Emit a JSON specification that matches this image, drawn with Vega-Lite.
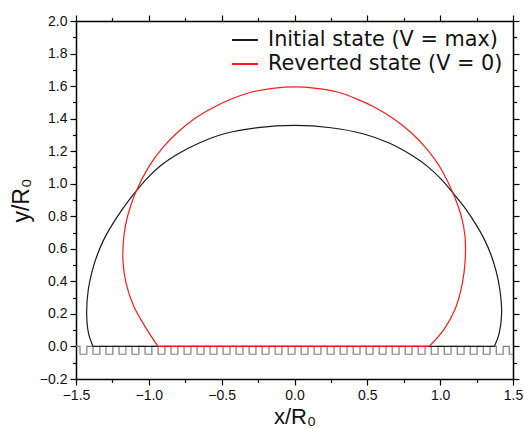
{
  "$schema": "https://vega.github.io/schema/vega-lite/v6.json",
  "width": 437,
  "height": 358,
  "autosize": {"type": "none"},
  "padding": {"left": 76, "top": 21, "right": 11, "bottom": 49},
  "background": "white",
  "config": {
    "view": {"stroke": null},
    "axis": {"grid": false, "labelFlush": false, "domainColor": "black", "domainWidth": 1.5, "tickColor": "black", "tickWidth": 1.2, "labelFont": "Liberation Sans", "labelFontSize": 14, "labelColor": "#111", "titleFont": "Liberation Sans", "titleFontWeight": "normal", "titleColor": "#111"},
    "legend": {"labelFont": "DejaVu Sans", "labelFontSize": 20.8, "labelColor": "#111"}
  },
  "resolve": {"axis": {"x": "independent", "y": "independent"}},
  "datasets": {
    "wave": [
      {"x": -1.5, "y": 0},
      {"x": -1.4725, "y": -0.048}, {"x": -1.4255, "y": 0},
      {"x": -1.3832, "y": -0.048}, {"x": -1.3362, "y": 0},
      {"x": -1.2939, "y": -0.048}, {"x": -1.2469, "y": 0},
      {"x": -1.2046, "y": -0.048}, {"x": -1.1576, "y": 0},
      {"x": -1.1153, "y": -0.048}, {"x": -1.0683, "y": 0},
      {"x": -1.026, "y": -0.048}, {"x": -0.979, "y": 0},
      {"x": -0.9367, "y": -0.048}, {"x": -0.8897, "y": 0},
      {"x": -0.8474, "y": -0.048}, {"x": -0.8004, "y": 0},
      {"x": -0.7581, "y": -0.048}, {"x": -0.7111, "y": 0},
      {"x": -0.6688, "y": -0.048}, {"x": -0.6218, "y": 0},
      {"x": -0.5795, "y": -0.048}, {"x": -0.5325, "y": 0},
      {"x": -0.4902, "y": -0.048}, {"x": -0.4432, "y": 0},
      {"x": -0.4009, "y": -0.048}, {"x": -0.3539, "y": 0},
      {"x": -0.3116, "y": -0.048}, {"x": -0.2646, "y": 0},
      {"x": -0.2223, "y": -0.048}, {"x": -0.1753, "y": 0},
      {"x": -0.133, "y": -0.048}, {"x": -0.086, "y": 0},
      {"x": -0.0437, "y": -0.048}, {"x": 0.0033, "y": 0},
      {"x": 0.0456, "y": -0.048}, {"x": 0.0926, "y": 0},
      {"x": 0.1349, "y": -0.048}, {"x": 0.1819, "y": 0},
      {"x": 0.2242, "y": -0.048}, {"x": 0.2712, "y": 0},
      {"x": 0.3135, "y": -0.048}, {"x": 0.3605, "y": 0},
      {"x": 0.4028, "y": -0.048}, {"x": 0.4498, "y": 0},
      {"x": 0.4921, "y": -0.048}, {"x": 0.5391, "y": 0},
      {"x": 0.5814, "y": -0.048}, {"x": 0.6284, "y": 0},
      {"x": 0.6707, "y": -0.048}, {"x": 0.7177, "y": 0},
      {"x": 0.76, "y": -0.048}, {"x": 0.807, "y": 0},
      {"x": 0.8493, "y": -0.048}, {"x": 0.8963, "y": 0},
      {"x": 0.9386, "y": -0.048}, {"x": 0.9856, "y": 0},
      {"x": 1.0279, "y": -0.048}, {"x": 1.0749, "y": 0},
      {"x": 1.1172, "y": -0.048}, {"x": 1.1642, "y": 0},
      {"x": 1.2065, "y": -0.048}, {"x": 1.2535, "y": 0},
      {"x": 1.2958, "y": -0.048}, {"x": 1.3428, "y": 0},
      {"x": 1.3851, "y": -0.048}, {"x": 1.4321, "y": 0},
      {"x": 1.4744, "y": -0.048}, {"x": 1.5214, "y": 0}
    ],
    "curves": [
      {"s": "Initial state (V = max)", "p": "dome", "i": 1, "x": -1.383, "y": 0},
      {"s": "Initial state (V = max)", "p": "dome", "i": 2, "x": -1.414, "y": 0.08},
      {"s": "Initial state (V = max)", "p": "dome", "i": 3, "x": -1.427, "y": 0.204},
      {"s": "Initial state (V = max)", "p": "dome", "i": 4, "x": -1.416, "y": 0.347},
      {"s": "Initial state (V = max)", "p": "dome", "i": 5, "x": -1.39, "y": 0.46},
      {"s": "Initial state (V = max)", "p": "dome", "i": 6, "x": -1.355, "y": 0.56},
      {"s": "Initial state (V = max)", "p": "dome", "i": 7, "x": -1.31, "y": 0.655},
      {"s": "Initial state (V = max)", "p": "dome", "i": 8, "x": -1.25, "y": 0.75},
      {"s": "Initial state (V = max)", "p": "dome", "i": 9, "x": -1.18, "y": 0.845},
      {"s": "Initial state (V = max)", "p": "dome", "i": 10, "x": -1.1, "y": 0.94},
      {"s": "Initial state (V = max)", "p": "dome", "i": 11, "x": -1.015, "y": 1.03},
      {"s": "Initial state (V = max)", "p": "dome", "i": 12, "x": -0.92, "y": 1.11},
      {"s": "Initial state (V = max)", "p": "dome", "i": 13, "x": -0.813, "y": 1.177},
      {"s": "Initial state (V = max)", "p": "dome", "i": 14, "x": -0.65, "y": 1.252},
      {"s": "Initial state (V = max)", "p": "dome", "i": 15, "x": -0.47, "y": 1.31},
      {"s": "Initial state (V = max)", "p": "dome", "i": 16, "x": -0.25, "y": 1.345},
      {"s": "Initial state (V = max)", "p": "dome", "i": 17, "x": 0, "y": 1.358},
      {"s": "Initial state (V = max)", "p": "dome", "i": 18, "x": 0.25, "y": 1.344},
      {"s": "Initial state (V = max)", "p": "dome", "i": 19, "x": 0.47, "y": 1.307},
      {"s": "Initial state (V = max)", "p": "dome", "i": 20, "x": 0.65, "y": 1.25},
      {"s": "Initial state (V = max)", "p": "dome", "i": 21, "x": 0.813, "y": 1.17},
      {"s": "Initial state (V = max)", "p": "dome", "i": 22, "x": 0.915, "y": 1.105},
      {"s": "Initial state (V = max)", "p": "dome", "i": 23, "x": 1.01, "y": 1.025},
      {"s": "Initial state (V = max)", "p": "dome", "i": 24, "x": 1.095, "y": 0.935},
      {"s": "Initial state (V = max)", "p": "dome", "i": 25, "x": 1.175, "y": 0.845},
      {"s": "Initial state (V = max)", "p": "dome", "i": 26, "x": 1.245, "y": 0.75},
      {"s": "Initial state (V = max)", "p": "dome", "i": 27, "x": 1.305, "y": 0.655},
      {"s": "Initial state (V = max)", "p": "dome", "i": 28, "x": 1.35, "y": 0.56},
      {"s": "Initial state (V = max)", "p": "dome", "i": 29, "x": 1.385, "y": 0.46},
      {"s": "Initial state (V = max)", "p": "dome", "i": 30, "x": 1.41, "y": 0.347},
      {"s": "Initial state (V = max)", "p": "dome", "i": 31, "x": 1.422, "y": 0.204},
      {"s": "Initial state (V = max)", "p": "dome", "i": 32, "x": 1.405, "y": 0.08},
      {"s": "Initial state (V = max)", "p": "dome", "i": 33, "x": 1.372, "y": 0},
      {"s": "Initial state (V = max)", "p": "base", "i": 1, "x": -1.383, "y": 0},
      {"s": "Initial state (V = max)", "p": "base", "i": 2, "x": 1.372, "y": 0},
      {"s": "Reverted state (V = 0)", "p": "dome", "i": 1, "x": -0.937, "y": 0},
      {"s": "Reverted state (V = 0)", "p": "dome", "i": 2, "x": -1.026, "y": 0.122},
      {"s": "Reverted state (V = 0)", "p": "dome", "i": 3, "x": -1.105, "y": 0.25},
      {"s": "Reverted state (V = 0)", "p": "dome", "i": 4, "x": -1.156, "y": 0.388},
      {"s": "Reverted state (V = 0)", "p": "dome", "i": 5, "x": -1.178, "y": 0.532},
      {"s": "Reverted state (V = 0)", "p": "dome", "i": 6, "x": -1.171, "y": 0.68},
      {"s": "Reverted state (V = 0)", "p": "dome", "i": 7, "x": -1.146, "y": 0.8},
      {"s": "Reverted state (V = 0)", "p": "dome", "i": 8, "x": -1.095, "y": 0.937},
      {"s": "Reverted state (V = 0)", "p": "dome", "i": 9, "x": -1.0, "y": 1.105},
      {"s": "Reverted state (V = 0)", "p": "dome", "i": 10, "x": -0.9, "y": 1.226},
      {"s": "Reverted state (V = 0)", "p": "dome", "i": 11, "x": -0.8, "y": 1.318},
      {"s": "Reverted state (V = 0)", "p": "dome", "i": 12, "x": -0.68, "y": 1.404},
      {"s": "Reverted state (V = 0)", "p": "dome", "i": 13, "x": -0.55, "y": 1.472},
      {"s": "Reverted state (V = 0)", "p": "dome", "i": 14, "x": -0.43, "y": 1.522},
      {"s": "Reverted state (V = 0)", "p": "dome", "i": 15, "x": -0.3, "y": 1.562},
      {"s": "Reverted state (V = 0)", "p": "dome", "i": 16, "x": -0.15, "y": 1.586},
      {"s": "Reverted state (V = 0)", "p": "dome", "i": 17, "x": 0, "y": 1.595},
      {"s": "Reverted state (V = 0)", "p": "dome", "i": 18, "x": 0.15, "y": 1.586},
      {"s": "Reverted state (V = 0)", "p": "dome", "i": 19, "x": 0.3, "y": 1.562},
      {"s": "Reverted state (V = 0)", "p": "dome", "i": 20, "x": 0.43, "y": 1.52},
      {"s": "Reverted state (V = 0)", "p": "dome", "i": 21, "x": 0.55, "y": 1.47},
      {"s": "Reverted state (V = 0)", "p": "dome", "i": 22, "x": 0.68, "y": 1.4},
      {"s": "Reverted state (V = 0)", "p": "dome", "i": 23, "x": 0.8, "y": 1.315},
      {"s": "Reverted state (V = 0)", "p": "dome", "i": 24, "x": 0.9, "y": 1.222},
      {"s": "Reverted state (V = 0)", "p": "dome", "i": 25, "x": 1.0, "y": 1.1},
      {"s": "Reverted state (V = 0)", "p": "dome", "i": 26, "x": 1.1, "y": 0.917},
      {"s": "Reverted state (V = 0)", "p": "dome", "i": 27, "x": 1.145, "y": 0.8},
      {"s": "Reverted state (V = 0)", "p": "dome", "i": 28, "x": 1.17, "y": 0.68},
      {"s": "Reverted state (V = 0)", "p": "dome", "i": 29, "x": 1.172, "y": 0.532},
      {"s": "Reverted state (V = 0)", "p": "dome", "i": 30, "x": 1.152, "y": 0.388},
      {"s": "Reverted state (V = 0)", "p": "dome", "i": 31, "x": 1.105, "y": 0.235},
      {"s": "Reverted state (V = 0)", "p": "dome", "i": 32, "x": 1.03, "y": 0.11},
      {"s": "Reverted state (V = 0)", "p": "dome", "i": 33, "x": 0.925, "y": 0},
      {"s": "Reverted state (V = 0)", "p": "base", "i": 1, "x": -0.937, "y": 0},
      {"s": "Reverted state (V = 0)", "p": "base", "i": 2, "x": 0.925, "y": 0}
    ]
  },
  "layer": [
    {
      "data": {"name": "wave"},
      "mark": {"type": "line", "interpolate": "step-after", "color": "#7f7f7f", "strokeWidth": 1.2, "clip": true},
      "encoding": {
        "x": {"field": "x", "type": "quantitative", "scale": {"domain": [-1.5, 1.5], "nice": false, "zero": false},
          "axis": {"orient": "bottom", "values": [-1.5, -1, -0.5, 0, 0.5, 1, 1.5], "format": ".1f", "tickSize": 6, "labelPadding": 3, "title": "x/R₀", "titleFontSize": 22, "titlePadding": 4}},
        "y": {"field": "y", "type": "quantitative", "scale": {"domain": [-0.2, 2.0], "nice": false, "zero": false},
          "axis": {"orient": "left", "values": [-0.2, 0, 0.2, 0.4, 0.6, 0.8, 1.0, 1.2, 1.4, 1.6, 1.8, 2.0], "format": ".1f", "tickSize": 6, "labelPadding": 3, "title": "y/R₀", "titleFontSize": 23, "titlePadding": 6}}
      }
    },
    {
      "data": {"name": "curves"},
      "mark": {"type": "line", "interpolate": "catmull-rom", "strokeWidth": 1.2, "clip": true},
      "encoding": {
        "x": {"field": "x", "type": "quantitative", "scale": {"domain": [-1.5, 1.5], "nice": false, "zero": false},
          "axis": {"orient": "bottom", "values": [-1.25, -0.75, -0.25, 0.25, 0.75, 1.25], "tickSize": 3.5, "labels": false, "domain": false, "title": null}},
        "y": {"field": "y", "type": "quantitative", "scale": {"domain": [-0.2, 2.0], "nice": false, "zero": false},
          "axis": {"orient": "left", "values": [-0.1, 0.1, 0.3, 0.5, 0.7, 0.9, 1.1, 1.3, 1.5, 1.7, 1.9], "tickSize": 3.5, "labels": false, "domain": false, "title": null}},
        "color": {"field": "s", "type": "nominal", "scale": {"domain": ["Initial state (V = max)", "Reverted state (V = 0)"], "range": ["#1a1a1a", "#ff1a1a"]},
          "legend": {"title": null, "orient": "none", "legendX": 155, "legendY": 5, "symbolType": "stroke", "symbolSize": 676, "symbolStrokeWidth": 2, "labelOffset": 9, "rowPadding": 0, "labelLimit": 400}},
        "detail": {"field": "p"},
        "order": {"field": "i", "type": "quantitative"}
      }
    },
    {
      "data": {"name": "wave"},
      "mark": {"type": "line", "opacity": 0},
      "encoding": {
        "x": {"field": "x", "type": "quantitative", "scale": {"domain": [-1.5, 1.5], "nice": false, "zero": false},
          "axis": {"orient": "top", "values": [-1.5, -1, -0.5, 0, 0.5, 1, 1.5], "tickSize": 6, "labels": false, "title": null}},
        "y": {"field": "y", "type": "quantitative", "scale": {"domain": [-0.2, 2.0], "nice": false, "zero": false},
          "axis": {"orient": "right", "values": [-0.2, 0, 0.2, 0.4, 0.6, 0.8, 1.0, 1.2, 1.4, 1.6, 1.8, 2.0], "tickSize": 6, "labels": false, "title": null}}
      }
    },
    {
      "data": {"name": "wave"},
      "mark": {"type": "line", "opacity": 0},
      "encoding": {
        "x": {"field": "x", "type": "quantitative", "scale": {"domain": [-1.5, 1.5], "nice": false, "zero": false},
          "axis": {"orient": "top", "values": [-1.25, -0.75, -0.25, 0.25, 0.75, 1.25], "tickSize": 3.5, "labels": false, "domain": false, "title": null}},
        "y": {"field": "y", "type": "quantitative", "scale": {"domain": [-0.2, 2.0], "nice": false, "zero": false},
          "axis": {"orient": "right", "values": [-0.1, 0.1, 0.3, 0.5, 0.7, 0.9, 1.1, 1.3, 1.5, 1.7, 1.9], "tickSize": 3.5, "labels": false, "domain": false, "title": null}}
      }
    }
  ]
}
